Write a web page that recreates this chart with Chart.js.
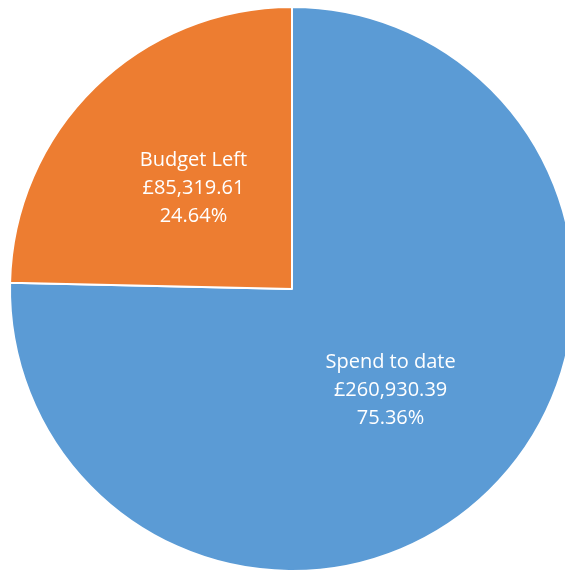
<!DOCTYPE html>
<html>
<head>
<meta charset="utf-8">
<script src="https://cdn.jsdelivr.net/npm/chart.js@4"></script>
<style>
    html, body { margin: 0; padding: 0; background: #fff; overflow: hidden; }
    #wrap { position: absolute; left: 0; top: 0; width: 584px; height: 578px; }
</style>
</head>
<body>
<div id="wrap"><canvas id="budgetChart"></canvas></div>
<script>
const categories = ['Spend to date', 'Budget Left'];
const amounts = [260930.39, 85319.61];
const percentLabels = ['75.36%', '24.64%'];
const sliceColors = ['#5B9BD5', '#ED7D31'];

const money = v => '£' + v.toLocaleString('en-GB', { minimumFractionDigits: 2, maximumFractionDigits: 2 });

// Writes the name / amount / percent block in the middle of each slice
const sliceLabels = {
    id: 'sliceLabels',
    afterDatasetsDraw(chart) {
        const ctx = chart.ctx;
        const meta = chart.getDatasetMeta(0);
        ctx.save();
        ctx.fillStyle = '#ffffff';
        ctx.font = '20px "Open Sans", sans-serif';
        ctx.textAlign = 'center';
        ctx.textBaseline = 'middle';
        meta.data.forEach((arc, i) => {
            const pos = arc.tooltipPosition();
            const lines = [categories[i], money(amounts[i]), percentLabels[i]];
            lines.forEach((line, j) => {
                ctx.fillText(line, pos.x, pos.y + (j - 1) * 28);
            });
        });
        ctx.restore();
    }
};

const ctx = document.getElementById('budgetChart').getContext('2d');
const budgetChart = new Chart(ctx, {
    type: 'pie',
    data: {
        labels: categories,
        datasets: [{
            data: amounts,
            backgroundColor: sliceColors,
            borderColor: '#ffffff',
            borderWidth: 2
        }]
    },
    options: {
        responsive: true,
        maintainAspectRatio: false,
        animation: false,
        radius: 282,
        layout: { padding: 0 },
        plugins: {
            legend: { display: false },
            tooltip: { enabled: false }
        }
    },
    plugins: [sliceLabels]
});
</script>
</body>
</html>
